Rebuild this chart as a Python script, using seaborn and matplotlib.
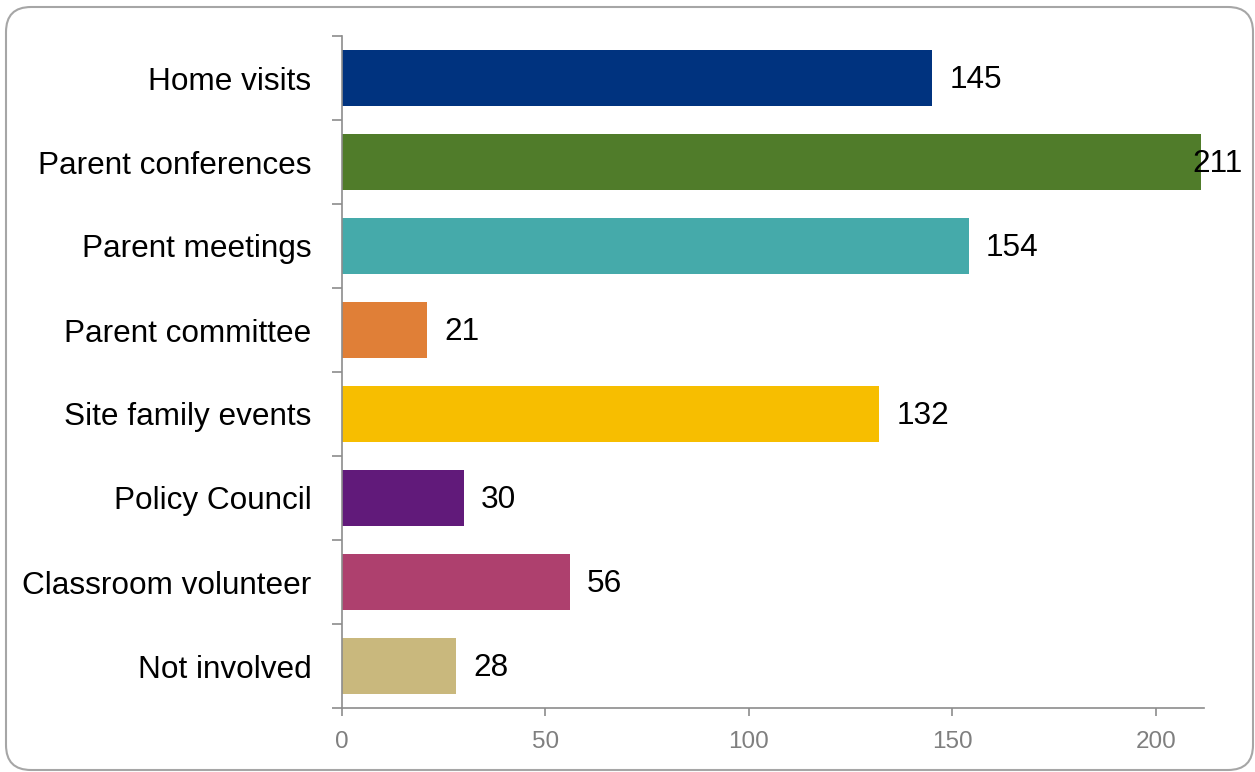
import matplotlib
matplotlib.use("Agg")
import matplotlib.pyplot as plt
from matplotlib.patches import FancyBboxPatch
from matplotlib.transforms import IdentityTransform
import seaborn as sns
import pandas as pd

categories = ["Home visits", "Parent conferences", "Parent meetings", "Parent committee",
              "Site family events", "Policy Council", "Classroom volunteer", "Not involved"]
values = [145, 211, 154, 21, 132, 30, 56, 28]
colors = ["#00337F", "#507C2A", "#45AAAA", "#E07F37", "#F7BE00", "#611A7A", "#AE406E", "#C9B87D"]
x_ticks = [0, 50, 100, 150, 200]

sns.set_theme(style="white")
plt.rcParams["font.family"] = ["Liberation Sans", "DejaVu Sans"]

df = pd.DataFrame({"category": categories, "value": values})

W, H, DPI = 1255, 772, 100
fig = plt.figure(figsize=(W / DPI, H / DPI), dpi=DPI)
ax = fig.add_axes([342 / W, 1 - 708 / H, (1204 - 342) / W, (708 - 36) / H])

sns.barplot(data=df, y="category", x="value", hue="category", palette=colors,
            orient="h", width=0.67, legend=False, saturation=1, linewidth=0, ax=ax)

ax.set_xlim(0, 211.8)
ax.set_ylim(len(categories) - 0.5, -0.5)
ax.set_xlabel("")
ax.set_ylabel("")

grey = "#8C8C8C"
for s in ["top", "right"]:
    ax.spines[s].set_visible(False)
for s in ["left", "bottom"]:
    ax.spines[s].set_color(grey)
    ax.spines[s].set_linewidth(1.2)

ax.set_xticks(x_ticks)
ax.tick_params(axis="x", bottom=True, length=5.8, width=1.2, color=grey,
               labelcolor="#7F7F7F", labelsize=17.5, pad=11)

# category labels centred in each band, ticks on the band boundaries
ax.set_yticks(range(len(categories)))
ax.set_yticklabels(categories)
ax.set_yticks([i - 0.5 for i in range(len(categories) + 1)], minor=True)
ax.tick_params(axis="y", which="major", left=False, length=0, labelsize=22.7,
               labelcolor="black", pad=22)
ax.tick_params(axis="y", which="minor", left=True, length=7.2, width=1.2, color=grey)

# value labels just past each bar, kept inside the chart frame
labels = []
for i, v in enumerate(values):
    t = ax.annotate(f"{v}", xy=(v, i), xytext=(17, -2), textcoords="offset pixels",
                    ha="left", va="center", fontsize=22.7, color="black", annotation_clip=False)
    labels.append(t)

fig.canvas.draw()
renderer = fig.canvas.get_renderer()
limit = 1243
for t in labels:
    bb = t.get_window_extent(renderer)
    if bb.x1 > limit:
        dx, dy = t.xyann
        t.xyann = (dx - (bb.x1 - limit), dy)

# rounded frame around the whole chart
frame = FancyBboxPatch((6, 2), 1247, 763, boxstyle="round,pad=0,rounding_size=25",
                       transform=IdentityTransform(), fill=False,
                       edgecolor="#A6A6A6", linewidth=1.5)
fig.patches.append(frame)

fig.savefig("out.png", dpi=DPI)
